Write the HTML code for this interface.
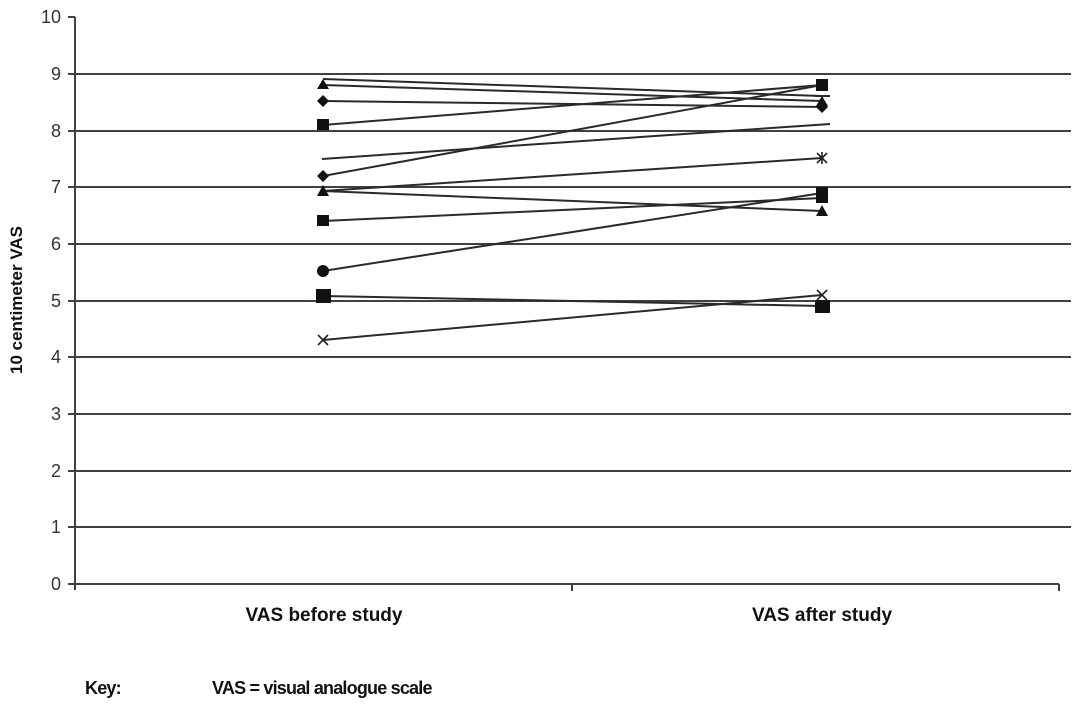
<!DOCTYPE html>
<html><head><meta charset="utf-8"><style>
html,body{margin:0;padding:0;background:#fff;width:1074px;height:704px;overflow:hidden}
text{font-family:"Liberation Sans",Arial,sans-serif}
</style></head><body>
<svg width="1074" height="704" viewBox="0 0 1074 704" xmlns="http://www.w3.org/2000/svg">
<g stroke="#3a4444" stroke-width="2" fill="none">
<line x1="75" y1="74" x2="1071" y2="74"/>
<line x1="75" y1="131" x2="1071" y2="131"/>
<line x1="75" y1="187" x2="1071" y2="187"/>
<line x1="75" y1="244" x2="1071" y2="244"/>
<line x1="75" y1="301" x2="1071" y2="301"/>
<line x1="75" y1="357" x2="1071" y2="357"/>
<line x1="75" y1="414" x2="1071" y2="414"/>
<line x1="75" y1="471" x2="1071" y2="471"/>
<line x1="75" y1="527" x2="1071" y2="527"/>
<line x1="75" y1="584" x2="1059" y2="584"/>
<line x1="75" y1="17" x2="75" y2="590"/>
<line x1="68" y1="17" x2="75" y2="17"/>
<line x1="68" y1="74" x2="75" y2="74"/>
<line x1="68" y1="131" x2="75" y2="131"/>
<line x1="68" y1="187" x2="75" y2="187"/>
<line x1="68" y1="244" x2="75" y2="244"/>
<line x1="68" y1="301" x2="75" y2="301"/>
<line x1="68" y1="357" x2="75" y2="357"/>
<line x1="68" y1="414" x2="75" y2="414"/>
<line x1="68" y1="471" x2="75" y2="471"/>
<line x1="68" y1="527" x2="75" y2="527"/>
<line x1="68" y1="584" x2="75" y2="584"/>
<line x1="572" y1="584" x2="572" y2="591"/>
<line x1="1059" y1="584" x2="1059" y2="591"/>
</g>
<g font-size="18" fill="#333" text-anchor="end">
<text x="61" y="23">10</text><text x="61" y="80">9</text><text x="61" y="137">8</text>
<text x="61" y="193">7</text><text x="61" y="250">6</text><text x="61" y="307">5</text>
<text x="61" y="363">4</text><text x="61" y="420">3</text><text x="61" y="477">2</text>
<text x="61" y="533">1</text><text x="61" y="590">0</text>
</g>
<text transform="translate(22,300) rotate(-90)" font-size="17" font-weight="bold" text-anchor="middle" fill="#111">10 centimeter VAS</text>
<text x="324" y="621" font-size="19" font-weight="bold" text-anchor="middle" fill="#111">VAS before study</text>
<text x="822" y="621" font-size="19" font-weight="bold" text-anchor="middle" fill="#111">VAS after study</text>
<text x="85" y="694" font-size="18" font-weight="bold" fill="#111" letter-spacing="-0.8">Key:</text>
<text x="212" y="694" font-size="18" font-weight="bold" fill="#111" letter-spacing="-0.8">VAS = visual analogue scale</text>
<g stroke="#2a2a2a" stroke-width="2" fill="none">
<line x1="323" y1="79" x2="822" y2="96"/>
<line x1="323" y1="85" x2="822" y2="101"/>
<line x1="323" y1="101" x2="822" y2="107"/>
<line x1="323" y1="125" x2="822" y2="85"/>
<line x1="322" y1="159" x2="830" y2="124"/>
<line x1="323" y1="176" x2="822" y2="85"/>
<line x1="323" y1="191" x2="822" y2="158"/>
<line x1="323" y1="191" x2="822" y2="211"/>
<line x1="323" y1="221" x2="822" y2="198"/>
<line x1="323" y1="271" x2="822" y2="193"/>
<line x1="323" y1="296" x2="822" y2="306"/>
<line x1="323" y1="340" x2="822" y2="295"/>
<line x1="815" y1="96" x2="830" y2="96"/>
</g>
<g fill="#111">
<path d="M323,79 L329,89 L317,89Z"/>
<path d="M323,101 L329,107 L323,113 L317,107Z" transform="translate(0,-6)"/>
<rect x="317" y="119" width="12" height="11"/>
<path d="M323,170 L329,176 L323,182 L317,176Z"/>
<path d="M323,185 L329,196 L317,196Z"/>
<rect x="317" y="215" width="12" height="11"/>
<circle cx="323" cy="271" r="6"/>
<rect x="316" y="289" width="15" height="14"/>
<rect x="816" y="79" width="12" height="12"/>
<path d="M822,96 L828,106 L816,106Z"/>
<path d="M822,101 L828,107 L822,113 L816,107Z"/>
<rect x="816" y="187" width="12" height="16"/>
<path d="M822,205 L828,216 L816,216Z"/>
<rect x="815" y="300" width="15" height="13"/>
</g>
<g stroke="#222" stroke-width="1.6">
<line x1="318" y1="335" x2="328" y2="345"/><line x1="328" y1="335" x2="318" y2="345"/>
<line x1="817" y1="290" x2="827" y2="300"/><line x1="827" y1="290" x2="817" y2="300"/>
<line x1="817" y1="153" x2="827" y2="163"/><line x1="827" y1="153" x2="817" y2="163"/><line x1="822" y1="152" x2="822" y2="164"/>
</g>
</svg>
</body></html>
